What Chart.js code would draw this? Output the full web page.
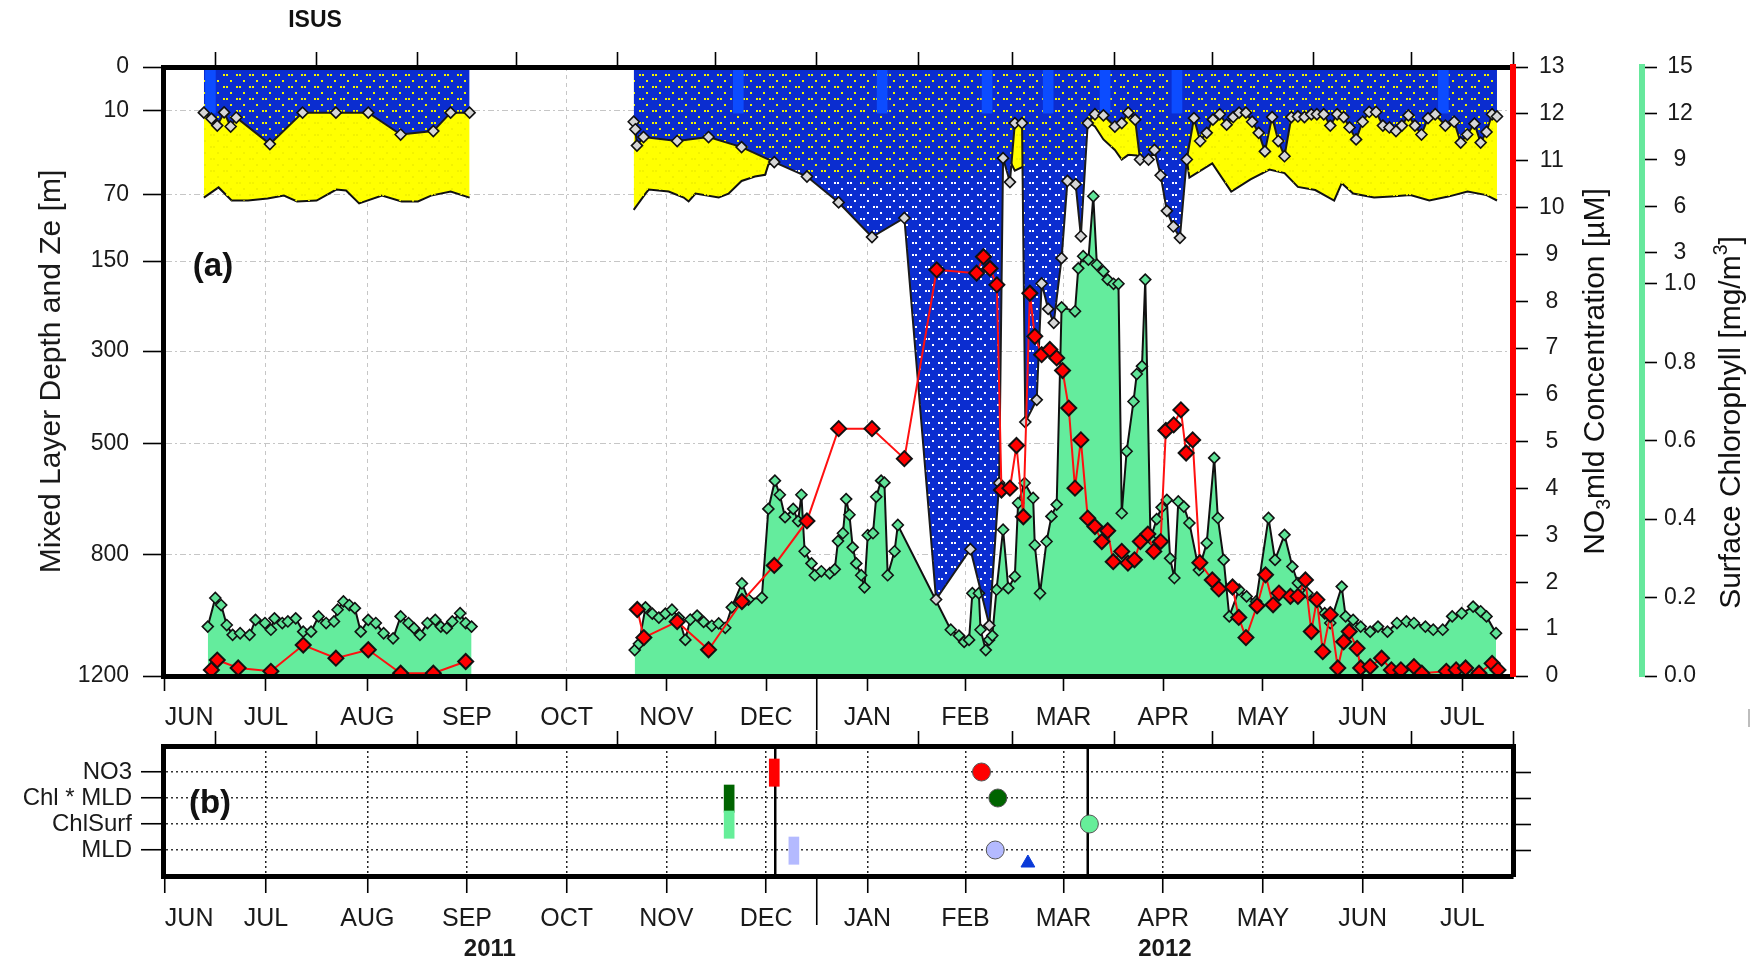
<!DOCTYPE html>
<html>
<head>
<meta charset="utf-8">
<script src="https://cdn.jsdelivr.net/npm/chart.js@4.4.1/dist/chart.umd.min.js"></script>
<style>
  body { margin: 0; background: #fff; }
  #wrap { position: relative; width: 1761px; height: 963px; }
  canvas { position: absolute; left: 0; }
</style>
</head>
<body>
<div id="wrap">
  <canvas id="panelA" width="1761" height="740" style="top:0"></canvas>
  <canvas id="panelB" width="1761" height="263" style="top:700px"></canvas>
</div>
<script>
const FONT = "'Liberation Sans', Arial, Helvetica, sans-serif";
Chart.defaults.font.family = FONT;
Chart.defaults.color = '#1a1a1a';
Chart.defaults.animation = false;

// time axis: days since 15 Jun 2011, ends 1 Aug 2012
const axisEnd = 413;
const monthStarts = [16, 47, 78, 108, 139, 169, 200, 231, 260, 291, 321, 352, 382, 413];
const monthLabels = ['JUN', 'JUL', 'AUG', 'SEP', 'OCT', 'NOV', 'DEC', 'JAN', 'FEB', 'MAR', 'APR', 'MAY', 'JUN', 'JUL'];
const yearStart = 200; // 1 Jan 2012
const yearLabels = ['2011', '2012'];

const depthTicks = [0, 10, 70, 150, 300, 500, 800, 1200];
const no3Ticks = [0, 1, 2, 3, 4, 5, 6, 7, 8, 9, 10, 11, 12, 13];
const chlTicks = [0, 0.2, 0.4, 0.6, 0.8, 1, 3, 6, 9, 12, 15];
const chlTickLabels = ['0.0', '0.2', '0.4', '0.6', '0.8', '1.0', '3', '6', '9', '12', '15'];

// mixed layer depth [m]
const mldDay = [12.5, 14.8, 16.6, 18.7, 20.7, 22.4, 32.7, 42.7, 52.9, 62.8, 72.7, 82.7, 88.0, 93.8,
  120,
  144.0, 144.5, 145.0, 147.0, 157.3, 166.9, 177.0, 187.0, 197.0, 206.7, 216.9, 226.8,
  236.5, 247.0, 252.8, 255.8, 257.0, 259.1, 260.6, 262.8, 263.8, 267.3, 268.8, 270.8, 272.5, 274.9, 276.7, 279.2, 280.8, 282.9,
  285.1, 287.7, 291.2, 293.3, 295.3, 297.4, 298.9, 301.5, 303.3, 305.2, 307.1, 309.1, 311.1, 313.2,
  315.4, 317.3, 319.3, 321.2, 323.3, 325.4, 327.4, 329.2, 331.3, 333.2, 335.2, 337.1, 339.3, 341.2, 343.1, 345.2,
  347.2, 349.2, 351.3, 353.0, 355.1, 357.1, 359.2, 361.2, 363.0, 365.0, 367.0, 369.0, 371.1, 373.2, 375.2, 377.2,
  379.0, 381.0, 383.0, 385.0, 387.0, 389.2, 392.3, 395.0, 397.0, 399.0, 401.2, 403.1, 404.9, 406.6, 408.1];
const mldDepth = [10.8, 13.5, 17, 10.7, 17.5, 13, 28, 10.8, 10.8, 10.8, 22, 20, 10.8, 10.8,
  null,
  15, 19, 29, 23.5, 26, 23.5, 30, 41, 53, 78, 118, 95,
  940, 785, 1025, 600, 38, 58, 15.7, 15.7, 450, 400, 183, 224, 248, 146, 57, 60, 117, 15.7,
  11.5, 12, 17.5, 15.7, 10.8, 14, 39, 39, 32, 52, 87, 105, 119, 39,
  13.3, 26, 21, 14, 11.5, 16.5, 12.8, 10.8, 10.8, 15, 21, 33, 12.8, 26, 36.5, 12.8,
  12.5, 12.8, 11.5, 11.5, 11.5, 17, 11.5, 12.8, 18, 25, 15, 10.5, 10.5, 17, 18, 20,
  17, 12, 17, 22, 13.3, 11.5, 17, 15, 27, 22, 16, 27, 20.5, 11.5, 12.5];

// euphotic depth Ze [m]
const zeDay = [12.5, 17, 21, 26, 32, 37, 41, 47, 53, 56, 60, 67, 73, 78, 82, 88, 93.8,
  120,
  144.0, 147.6, 148.6, 154.7, 159.3, 160.8, 162.9, 170, 173, 177, 181.1, 184.2, 185.2, 187,
  195, 205, 215, 225, 235, 245, 252, 257, 259.1, 260.6, 262.8, 265, 272, 279, 282.9,
  285.1, 287.7, 291.2, 293.3, 295.3, 297.9, 298.9, 301.5, 305, 309, 313.2,
  314, 321, 326.8, 332.7, 338.5, 343.1, 347.2, 352.5, 358.3, 360.6, 364.1, 370.5, 375.8, 381.6, 387.4, 393.2, 399.1, 404.9, 408.1];
const zeDepth = [73, 63, 76, 76, 74, 71, 77, 76, 65, 66, 79, 71, 77, 77, 71, 67, 73,
  null,
  86, 69, 65, 67, 73, 77, 69, 73, 69, 57, 53, 51.5, 43, 41,
  48, 55, 60, 58, 56, 54, 50, 35, 40, 48, 45, 42, 40, 40, 15,
  17.5, 25, 32, 39, 35.5, 36, 38, 36, 35, 38, 39,
  54, 42, 67, 55.6, 47, 50, 62.5, 65.5, 76, 59, 69, 73, 72, 70.5, 76, 72, 67, 70.5, 76];

// profile days marked at the surface
const profileDay = [14.5, 176, 220, 252.1, 270.8, 288.2, 310.2, 391.7];
const profileDepth = 11;

// surface chlorophyll [mg/m3]
const chlDay = [13.7, 16, 17.8, 19.5, 21.3, 23.6, 26.5, 28.3, 31.2, 33, 34.1, 36.5, 38.2, 40.6, 42.9, 45.3, 47.6, 49.9, 52.3, 53.4,
  55.2, 57, 58.7, 60.5, 62.8, 65.1, 67.5, 70.4, 72.7, 75.1, 76.8, 78.6, 80.9, 83.3, 85, 86.8, 88.5, 90.9, 92.6, 94.4,
  120,
  144.3, 145.6, 147.6, 149.7, 151.7, 153.7, 155.7, 157.8, 159.8, 161.3, 163.4, 165.4, 167.9, 170, 172, 174, 177.1, 179.1, 183.2, 185.2,
  187.2, 188.7, 190.3, 192.8, 194.3, 195.3, 196.3, 198.4, 199.4, 201.4, 204, 205.5, 206.5, 208, 209, 210, 211, 212.1, 213.6, 214.6,
  215.6, 217.2, 218.2, 219.7, 220.7, 221.7, 223.8, 224.8, 241, 243.5, 245.1, 246.6, 247.6, 249.6, 250.1, 251.7, 252.7, 253.7, 255, 257,
  258.6, 260.6, 261.6, 263.6, 266.2, 266.7, 268.3, 270.3, 271.8, 273.4, 274.9, 279, 280, 281.5, 283.1, 284.6, 285.7, 287.7, 289, 290.8,
  292.3, 293.3, 294.8, 296.9, 297.9, 299.5, 300.5, 302.1, 304, 305.5, 307.1, 308.1, 309.4, 310.6, 312.3, 314, 316.9, 319.3, 321.6, 322.7,
  324.5, 326.2, 329.2, 331.5, 334.4, 338.2, 340.2, 343.1, 345.5, 347.2, 350.1, 352.5, 355.4, 357.1, 360.6, 361.8, 364.1, 366.4, 369.3, 371.7,
  374.6, 377.5, 380.4, 382.7, 386.2, 388.6, 391.5, 394.4, 397.3, 400.8, 403.1, 404.9, 407.8];
const chlValue = [0.126, 0.199, 0.181, 0.130, 0.105, 0.109, 0.105, 0.143, 0.135, 0.118, 0.147, 0.135, 0.139, 0.147, 0.113, 0.113, 0.152, 0.135, 0.139, 0.169,
  0.190, 0.181, 0.173, 0.113, 0.143, 0.135, 0.109, 0.096, 0.152, 0.135, 0.122, 0.105, 0.135, 0.143, 0.126, 0.122, 0.139, 0.160, 0.135, 0.126,
  null,
  0.066, 0.082, 0.175, 0.159, 0.149, 0.159, 0.169, 0.149, 0.092, 0.144, 0.154, 0.138, 0.128, 0.134, 0.123, 0.175, 0.236, 0.195, 0.20, 0.426,
  0.498, 0.462, 0.405, 0.426, 0.395, 0.462, 0.318, 0.287, 0.257, 0.267, 0.262, 0.272, 0.344, 0.364, 0.451, 0.411, 0.328, 0.287, 0.257, 0.226,
  0.359, 0.364, 0.457, 0.498, 0.493, 0.257, 0.318, 0.385, 0.118, 0.103, 0.087, 0.092, 0.211, 0.211, 0.118, 0.066, 0.092, 0.103, 0.22, 0.373,
  0.224, 0.254, 0.441, 0.492, 0.454, 0.334, 0.211, 0.343, 0.407, 0.437, 0.94, 0.93, 2.0, 2.78, 2.56, 6.65, 2.23, 1.8, 1.27, 1.0,
  1.0, 0.415, 0.573, 0.70, 0.77, 0.79, 1.27, 0.35, 0.40, 0.43, 0.449, 0.30, 0.25, 0.445, 0.432, 0.39, 0.27, 0.339, 0.556, 0.403,
  0.296, 0.152, 0.22, 0.203, 0.19, 0.403, 0.296, 0.36, 0.279, 0.237, 0.211, 0.194, 0.16, 0.135, 0.228, 0.152, 0.143, 0.126, 0.113, 0.126,
  0.113, 0.135, 0.139, 0.135, 0.126, 0.118, 0.118, 0.152, 0.16, 0.177, 0.165, 0.152, 0.109];

// nitrate in the mixed layer [uM]
const no3Day = [14.8, 16.6, 23, 33, 42.9, 52.9, 62.8, 72.7, 82.7, 92.6,
  120,
  145.1, 147.1, 157.3, 166.9, 177.1, 187, 197, 206.7, 216.9, 226.8,
  236.7, 248.9, 251, 253, 255.1, 256.5, 259.1, 261.1, 263.2, 265.2,
  266.7, 268.8, 271.3, 273.4, 275.2, 277.1, 279, 280.8, 282.9, 285.1,
  287.2, 289, 290.7, 293.3, 295.2, 297.2, 299, 301.3, 303.1, 305.2,
  306.8, 309.2, 311.4, 313, 315, 317.2, 321, 323, 327.2, 329.1,
  331.3, 334.7, 337.3, 339.6, 341.4, 344.9, 347.2, 349.5, 351.3, 353,
  354.8, 357.1, 359.4, 361.2, 362.9, 365.3, 366.4, 369.3, 372.8, 375.8,
  378.7, 382.7, 385.1, 392.6, 395.6, 398.5, 402.6, 406.6, 408.4];
const no3Value = [0.13, 0.34, 0.17, 0.1, 0.66, 0.38, 0.56, 0.06, 0.06, 0.31,
  null,
  1.42, 0.82, 1.16, 0.56, 1.59, 2.36, 3.31, 5.28, 5.28, 4.64,
  8.67, 8.6, 8.95, 8.7, 8.35, 3.97, 4.01, 4.92, 3.4, 8.17,
  7.25, 6.86, 6.97, 6.79, 6.52, 5.72, 4.01, 5.04, 3.37, 3.19,
  2.87, 3.1, 2.44, 2.66, 2.41, 2.48, 2.87, 3.03, 2.66, 2.87,
  5.24, 5.36, 5.68, 4.76, 5.04, 2.42, 2.05, 1.86, 1.9, 1.25,
  0.82, 1.5, 2.16, 1.52, 1.77, 1.70, 1.70, 2.05, 0.95, 1.63,
  0.52, 1.31, 0.17, 0.73, 0.95, 0.59, 0.17, 0.2, 0.38, 0.13,
  0.13, 0.2, 0.06, 0.1, 0.13, 0.17, 0.06, 0.27, 0.13];

// panel (b): onset dates per variable
const rowLabels = ['MLD', 'ChlSurf', 'Chl * MLD', 'NO3'];
const rectDay = [187.0, 173.2, 173.2, 193.0];
const rectRow = [4, 3, 2, 1];
const circleDay = [250.4, 255.4, 283.4, 254.6];
const circleRow = [4, 3, 2, 1];
const triangleDay = [264.6];
const triangleRow = [0.5];
const markerDay = [187.3, 282.9];
const rowColors = ['#ff0000', '#006400', '#66ee99', '#b4baff'];

const bounds = [0, ...monthStarts];
const monthMids = monthLabels.map((_, i) => (bounds[i] + bounds[i + 1]) / 2);
const yearMids = [yearStart / 2, (yearStart + axisEnd) / 2];

const pts = (xs, ys) => xs.map((x, i) => ({x: x, y: ys[i]}));
const setTicks = values => s => { s.ticks = values.map(v => ({value: v})); };

// depth axis is a power scale (depth^0.55)
class DepthScale extends Chart.LinearScale {
  getPixelForValue(value) {
    if (value === null || value === undefined || isNaN(value)) return NaN;
    return this.getPixelForDecimal(Math.pow(Math.max(value, 0) / this.max, 0.55));
  }
  getValueForPixel(pixel) {
    return this.max * Math.pow(this.getDecimalForPixel(pixel), 1 / 0.55);
  }
}
DepthScale.id = 'depth';
DepthScale.defaults = {};

// chlorophyll axis: 0-1 stretched, 1-15 compressed
class ChlScale extends Chart.LinearScale {
  getPixelForValue(value) {
    if (value === null || value === undefined || isNaN(value)) return NaN;
    const knee = 0.644;
    const t = value <= 1 ? value * knee : knee + (value - 1) / (this.max - 1) * (1 - knee);
    return this.getPixelForDecimal(t);
  }
  getValueForPixel(pixel) {
    const knee = 0.644;
    const t = this.getDecimalForPixel(pixel);
    return t <= knee ? t / knee : 1 + (t - knee) / (1 - knee) * (this.max - 1);
  }
}
ChlScale.id = 'chl';
ChlScale.defaults = {};
Chart.register(DepthScale, ChlScale);

function dotPattern(bg, dot) {
  const c = document.createElement('canvas');
  c.width = 13;
  c.height = 12;
  const g = c.getContext('2d');
  if (bg) {
    g.fillStyle = bg;
    g.fillRect(0, 0, c.width, c.height);
  }
  g.fillStyle = dot;
  [[2, 2], [5, 2], [9, 8]].forEach(([x, y]) => g.fillRect(x, y, 2, 2));
  return g.createPattern(c, 'repeat');
}

function rotatedText(ctx, parts, cx, cy, size) {
  ctx.save();
  ctx.translate(cx, cy);
  ctx.rotate(-Math.PI / 2);
  ctx.textAlign = 'left';
  ctx.textBaseline = 'middle';
  const fontFor = s => (s ? size * 0.65 : size) + 'px ' + FONT;
  const widths = parts.map(([t, s]) => { ctx.font = fontFor(s); return ctx.measureText(t).width; });
  let x = -widths.reduce((a, b) => a + b, 0) / 2;
  parts.forEach(([t, s], i) => {
    ctx.font = fontFor(s);
    ctx.fillText(t, x, s > 0 ? -size * 0.35 : s < 0 ? size * 0.3 : 0);
    x += widths[i];
  });
  ctx.restore();
}

const tickGrid = {tickColor: '#000', tickWidth: 1.6};

function timeAxis(position, extra) {
  return Object.assign({
    type: 'linear', position: position, min: 0, max: axisEnd, offset: false,
    afterBuildTicks: setTicks(monthStarts),
    ticks: {display: false}
  }, extra);
}

function labelAxis(values, labels, weight, height, padding, font) {
  return {
    type: 'linear', position: 'bottom', weight: weight, min: 0, max: axisEnd, offset: false,
    afterBuildTicks: setTicks(values),
    ticks: {autoSkip: false, maxRotation: 0, padding: padding, font: font, callback: (v, i) => labels[i]},
    grid: {display: false, drawTicks: false},
    border: {display: false},
    afterFit: s => { s.height = height; }
  };
}

const panelAExtras = {
  id: 'panelAExtras',
  afterDraw(chart) {
    const {ctx, chartArea: a, scales} = chart;
    ctx.save();
    ctx.fillStyle = '#111';
    ctx.textAlign = 'center';
    ctx.textBaseline = 'middle';
    ctx.font = 'bold 23px ' + FONT;
    ctx.fillText('ISUS', 315, 21);
    ctx.font = 'bold 33px ' + FONT;
    ctx.fillText('(a)', a.left + 50, 267);
    // the year boundary tick runs down between the month names
    const xj = scales.x.getPixelForValue(yearStart);
    ctx.strokeStyle = '#000';
    ctx.lineWidth = 1.6;
    ctx.beginPath();
    ctx.moveTo(xj, a.bottom);
    ctx.lineTo(xj, 730);
    ctx.stroke();
    const mid = (a.top + a.bottom) / 2;
    rotatedText(ctx, [['NO', 0], ['3', -1], ['mld Concentration [\u00b5M]', 0]], scales.yNo3.right - 46, mid, 30);
    rotatedText(ctx, [['Surface Chlorophyll [mg/m', 0], ['3', 1], [']', 0]], scales.yChl.right - 29, mid + 51, 30);
    ctx.fillStyle = '#bdbdbd';
    ctx.fillRect(1748, 709, 2, 18);
    ctx.restore();
  }
};

new Chart(document.getElementById('panelA'), {
  type: 'line',
  data: {
    datasets: [
      { // 0: mixed layer, blue from the surface down to the MLD
        data: pts(mldDay, mldDepth), xAxisID: 'x', yAxisID: 'yDepth',
        fill: {value: 0}, backgroundColor: dotPattern('#0b2dd0', '#ffffff'),
        borderWidth: 0, borderColor: 'transparent', pointRadius: 0, order: 50
      },
      { // 1: euphotic depth, yellow between Ze and MLD
        data: pts(zeDay, zeDepth), xAxisID: 'x', yAxisID: 'yDepth',
        fill: 0, backgroundColor: '#ffff00',
        borderColor: '#111', borderWidth: 2, pointRadius: 0, order: 60
      },
      { // 2: yellow dots inside the euphotic layer
        data: pts(zeDay, zeDepth), xAxisID: 'x', yAxisID: 'yDepth',
        fill: {value: 0}, backgroundColor: dotPattern(null, '#f2f200'),
        borderWidth: 0, borderColor: 'transparent', pointRadius: 0, order: 45
      },
      { // 3: profile markers
        type: 'bar', xAxisID: 'x', yAxisID: 'yDepth',
        data: profileDay.map(x => ({x: x, y: [0, profileDepth]})),
        backgroundColor: '#0c4cff', barThickness: 10, grouped: false, borderWidth: 0, order: 42
      },
      { // 4: surface chlorophyll
        data: pts(chlDay, chlValue), xAxisID: 'x', yAxisID: 'yChl',
        fill: {value: 0}, backgroundColor: '#64ec9d',
        borderColor: '#111', borderWidth: 2,
        pointStyle: 'rectRot', pointRadius: 5.5, pointBackgroundColor: '#5fe397',
        pointBorderColor: '#111', pointBorderWidth: 1.6, order: 30
      },
      { // 5: MLD line with markers
        data: pts(mldDay, mldDepth), xAxisID: 'x', yAxisID: 'yDepth',
        fill: false, borderColor: '#1b1b1b', borderWidth: 2,
        pointStyle: 'rectRot', pointRadius: 5.5, pointBackgroundColor: '#d6d6d6',
        pointBorderColor: '#111', pointBorderWidth: 1.6, order: 20
      },
      { // 6: nitrate
        data: pts(no3Day, no3Value), xAxisID: 'x', yAxisID: 'yNo3',
        fill: false, borderColor: '#ff1010', borderWidth: 2,
        pointStyle: 'rectRot', pointRadius: 7.5, pointBackgroundColor: '#ff0000',
        pointBorderColor: '#111', pointBorderWidth: 2, order: 10
      }
    ]
  },
  options: {
    responsive: false,
    events: [],
    layout: {padding: 0},
    plugins: {legend: {display: false}, tooltip: {enabled: false}},
    scales: {
      x: timeAxis('bottom', {
        grid: Object.assign({color: '#c6c6c6', lineWidth: 1, tickLength: 15}, tickGrid),
        border: {color: '#000', width: 5, dash: [4, 4], z: 1},
        afterFit: s => { s.height = 14; }
      }),
      xMonths: labelAxis(monthMids, monthLabels, 1, 50, 13, {size: 25}),
      xTop: timeAxis('top', {
        grid: Object.assign({drawOnChartArea: false, tickLength: 15}, tickGrid),
        border: {color: '#000', width: 5, z: 1},
        afterFit: s => { s.height = 67; }
      }),
      yDepth: {
        type: 'depth', position: 'left', min: 0, max: 1200, reverse: true,
        afterBuildTicks: setTicks(depthTicks),
        ticks: {autoSkip: false, font: {size: 23}, padding: 14, callback: v => String(v)},
        grid: Object.assign({color: '#c6c6c6', lineWidth: 1, tickLength: 20}, tickGrid),
        border: {color: '#000', width: 5, dash: [6, 3, 2, 3], z: 1},
        title: {display: true, text: 'Mixed Layer Depth and Ze [m]', font: {size: 30}, padding: {top: 34, bottom: 0}},
        afterFit: s => { s.width = 163; }
      },
      yNo3: {
        type: 'linear', position: 'right', min: 0, max: 13,
        afterBuildTicks: setTicks(no3Ticks),
        ticks: {autoSkip: false, font: {size: 23}, padding: 11, crossAlign: 'center', callback: v => String(v)},
        grid: Object.assign({drawOnChartArea: false, tickLength: 15}, tickGrid),
        border: {color: '#ff0000', width: 6, z: 1},
        afterFit: s => { s.width = 129; }
      },
      yChl: {
        type: 'chl', position: 'right', weight: 1, min: 0, max: 15,
        afterBuildTicks: setTicks(chlTicks),
        ticks: {autoSkip: false, font: {size: 23}, padding: 7, crossAlign: 'center', callback: (v, i) => chlTickLabels[i]},
        grid: Object.assign({drawOnChartArea: false, tickLength: 15}, tickGrid),
        border: {color: '#66e89c', width: 6, z: 1},
        afterFit: s => { s.width = 119; }
      }
    }
  },
  plugins: [panelAExtras]
});

const panelBExtras = {
  id: 'panelBExtras',
  afterDraw(chart) {
    const {ctx, chartArea: a, scales} = chart;
    ctx.save();
    ctx.fillStyle = '#111';
    ctx.textAlign = 'center';
    ctx.textBaseline = 'middle';
    ctx.font = 'bold 33px ' + FONT;
    ctx.fillText('(b)', a.left + 47, 104);
    const xj = scales.x.getPixelForValue(yearStart);
    ctx.strokeStyle = '#000';
    ctx.lineWidth = 1.6;
    ctx.beginPath();
    ctx.moveTo(xj, a.bottom);
    ctx.lineTo(xj, a.bottom + 49);
    ctx.stroke();
    ctx.restore();
  }
};

new Chart(document.getElementById('panelB'), {
  type: 'line',
  data: {
    datasets: [
      ...markerDay.map(d => ({
        data: [{x: d, y: 0}, {x: d, y: 5}], xAxisID: 'x', yAxisID: 'yRows',
        borderColor: '#000', borderWidth: 2.5, pointRadius: 0, order: 5
      })),
      {
        type: 'bar', xAxisID: 'x', yAxisID: 'yRows',
        data: rectDay.map((x, i) => ({x: x, y: [rectRow[i] - 0.55, rectRow[i] + 0.5]})),
        backgroundColor: rowColors, barThickness: 10, grouped: false, borderWidth: 0, order: 3
      },
      {
        data: pts(circleDay, circleRow), xAxisID: 'x', yAxisID: 'yRows', showLine: false,
        pointStyle: 'circle', pointRadius: 9, pointBackgroundColor: rowColors,
        pointBorderColor: '#555', pointBorderWidth: 1, order: 2
      },
      {
        data: pts(triangleDay, triangleRow), xAxisID: 'x', yAxisID: 'yRows', showLine: false,
        pointStyle: 'triangle', pointRadius: 8, pointBackgroundColor: '#0a3ad8',
        pointBorderColor: '#0a3ad8', pointBorderWidth: 1, order: 1
      }
    ]
  },
  options: {
    responsive: false,
    events: [],
    layout: {padding: 0},
    plugins: {legend: {display: false}, tooltip: {enabled: false}},
    scales: {
      x: timeAxis('bottom', {
        grid: Object.assign({color: '#222', lineWidth: 1.5, tickLength: 17}, tickGrid),
        border: {color: '#000', width: 5, dash: [2, 3], z: 1},
        afterFit: s => { s.height = 17; }
      }),
      xMonths: labelAxis(monthMids, monthLabels, 1, 40, 11, {size: 25}),
      xYears: labelAxis(yearMids, yearLabels, 2, 30, 2, {size: 24, weight: 'bold'}),
      xTop: timeAxis('top', {
        grid: Object.assign({drawOnChartArea: false, tickLength: 15}, tickGrid),
        border: {color: '#000', width: 5, z: 1},
        afterFit: s => { s.height = 46; }
      }),
      yRows: {
        type: 'linear', position: 'left', min: 0, max: 5,
        afterBuildTicks: setTicks([1, 2, 3, 4]),
        ticks: {autoSkip: false, font: {size: 24}, padding: 9, callback: (v, i) => rowLabels[i]},
        grid: Object.assign({color: '#333', lineWidth: 1.5, tickLength: 22}, tickGrid),
        border: {color: '#000', width: 5, dash: [2, 3], z: 1},
        afterFit: s => { s.width = 163; }
      },
      yRight: {
        type: 'linear', position: 'right', min: 0, max: 5,
        afterBuildTicks: setTicks([1, 2, 3, 4]),
        ticks: {display: false},
        grid: Object.assign({drawOnChartArea: false, tickLength: 18}, tickGrid),
        border: {color: '#000', width: 5, z: 1},
        afterFit: s => { s.width = 248; }
      }
    }
  },
  plugins: [panelBExtras]
});
</script>
</body>
</html>
